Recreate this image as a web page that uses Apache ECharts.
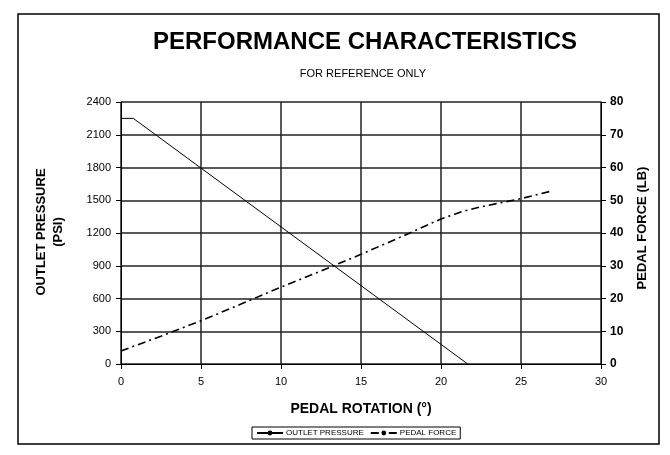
<!DOCTYPE html>
<html>
<head>
<meta charset="utf-8">
<script src="https://cdn.jsdelivr.net/npm/echarts@6/dist/echarts.min.js"></script>
<style>html,body{margin:0;padding:0;background:#fff}#c{width:670px;height:455px}</style>
</head>
<body>
<div id="c"></div>
<script>
// Data
var pressureX = [0, 0.77, 21.67];
var pressurePsi = [2250, 2250, 0];
var forceX = [0, 2.5, 5, 7.5, 10, 12.5, 15, 17.5, 20, 21.3, 22.5, 25, 26.9];
var forceLb = [4, 8.5, 13.2, 18.3, 23.5, 28.4, 33.5, 38.8, 44.3, 46.5, 48, 50.5, 52.8];
var seriesNames = ['OUTLET PRESSURE', 'PEDAL FORCE'];

var chart = echarts.init(document.getElementById('c'), null, {renderer: 'canvas'});
var ff = 'Liberation Sans, Arial, sans-serif';
var option = {
  animation: false,
  backgroundColor: '#fff',
  grid: {left: 121, right: 69, top: 102, bottom: 91, containLabel: false},
  title: [
    {text: 'PERFORMANCE CHARACTERISTICS', left: 360, top: 25, textAlign: 'center',
     textStyle: {fontFamily: ff, fontSize: 24, fontWeight: 'bold', color: '#000'}},
    {text: 'FOR REFERENCE ONLY', left: 358, top: 63, textAlign: 'center',
     textStyle: {fontFamily: ff, fontSize: 11, fontWeight: 'normal', color: '#000'}}
  ],
  legend: {
    data: seriesNames,
    left: 252, top: 427,
    orient: 'horizontal',
    borderColor: '#000', borderWidth: 1, borderRadius: 0,
    padding: [2, 4, 2, 4],
    itemGap: 6, itemWidth: 26, itemHeight: 6,
    textStyle: {fontFamily: ff, fontSize: 8, color: '#000', padding: [0, 0, 0, -2]}
  },
  xAxis: {
    type: 'value', min: 0, max: 30, interval: 5,
    axisLine: {show: true, lineStyle: {color: '#000', width: 1}},
    axisTick: {show: true, length: 5, lineStyle: {color: '#000'}},
    axisLabel: {fontFamily: ff, fontSize: 11, color: '#000', margin: 12},
    splitLine: {show: true, lineStyle: {color: '#222', width: 1.5}}
  },
  yAxis: [
    {
      type: 'value', min: 0, max: 2400, interval: 300, position: 'left',
      axisLine: {show: true, lineStyle: {color: '#000', width: 1}},
      axisTick: {show: true, length: 5, lineStyle: {color: '#000'}},
      axisLabel: {fontFamily: ff, fontSize: 11, color: '#000', margin: 10,
                  formatter: function (v) { return String(v); }},
      splitLine: {show: true, lineStyle: {color: '#222', width: 1.5}}
    },
    {
      type: 'value', min: 0, max: 80, interval: 10, position: 'right',
      axisLine: {show: true, lineStyle: {color: '#000', width: 1}},
      axisTick: {show: true, length: 5, lineStyle: {color: '#000'}},
      axisLabel: {fontFamily: 'Liberation Sans Narrow, Liberation Sans, Arial', fontSize: 12, fontWeight: 'bold', color: '#000', margin: 9},
      splitLine: {show: false}
    }
  ],
  graphic: [
    {type: 'rect', shape: {x: 18, y: 14, width: 641, height: 430},
     style: {fill: 'none', stroke: '#000', lineWidth: 1.5}, z: 100},
    {type: 'text', x: 41, y: 232, rotation: Math.PI / 2,
     style: {text: 'OUTLET PRESSURE', fontFamily: ff, fontSize: 13, fontWeight: 'bold', fill: '#000', align: 'center', verticalAlign: 'middle'}},
    {type: 'text', x: 58, y: 232, rotation: Math.PI / 2,
     style: {text: '(PSI)', fontFamily: ff, fontSize: 13, fontWeight: 'bold', fill: '#000', align: 'center', verticalAlign: 'middle'}},
    {type: 'text', x: 642, y: 228, rotation: Math.PI / 2,
     style: {text: 'PEDAL FORCE (LB)', fontFamily: ff, fontSize: 13, fontWeight: 'bold', fill: '#000', align: 'center', verticalAlign: 'middle'}},
    {type: 'text', x: 361, y: 409,
     style: {text: 'PEDAL ROTATION (°)', fontFamily: ff, fontSize: 14, fontWeight: 'bold', fill: '#000', align: 'center', verticalAlign: 'middle'}}
  ],
  series: [
    {
      name: seriesNames[0], type: 'line', yAxisIndex: 0,
      data: pressureX.map(function (x, i) { return [x, pressurePsi[i]]; }),
      symbol: 'none', lineStyle: {color: '#000', width: 1}, itemStyle: {color: '#000'}, z: 5
    },
    {
      name: seriesNames[1], type: 'line', yAxisIndex: 1,
      data: forceX.map(function (x, i) { return [x, forceLb[i]]; }),
      symbol: 'none', lineStyle: {color: '#000', width: 1.6, type: [8, 4, 2, 4]}, itemStyle: {color: '#000'}, z: 5
    }
  ]
};
chart.setOption(option);
</script>
</body>
</html>
